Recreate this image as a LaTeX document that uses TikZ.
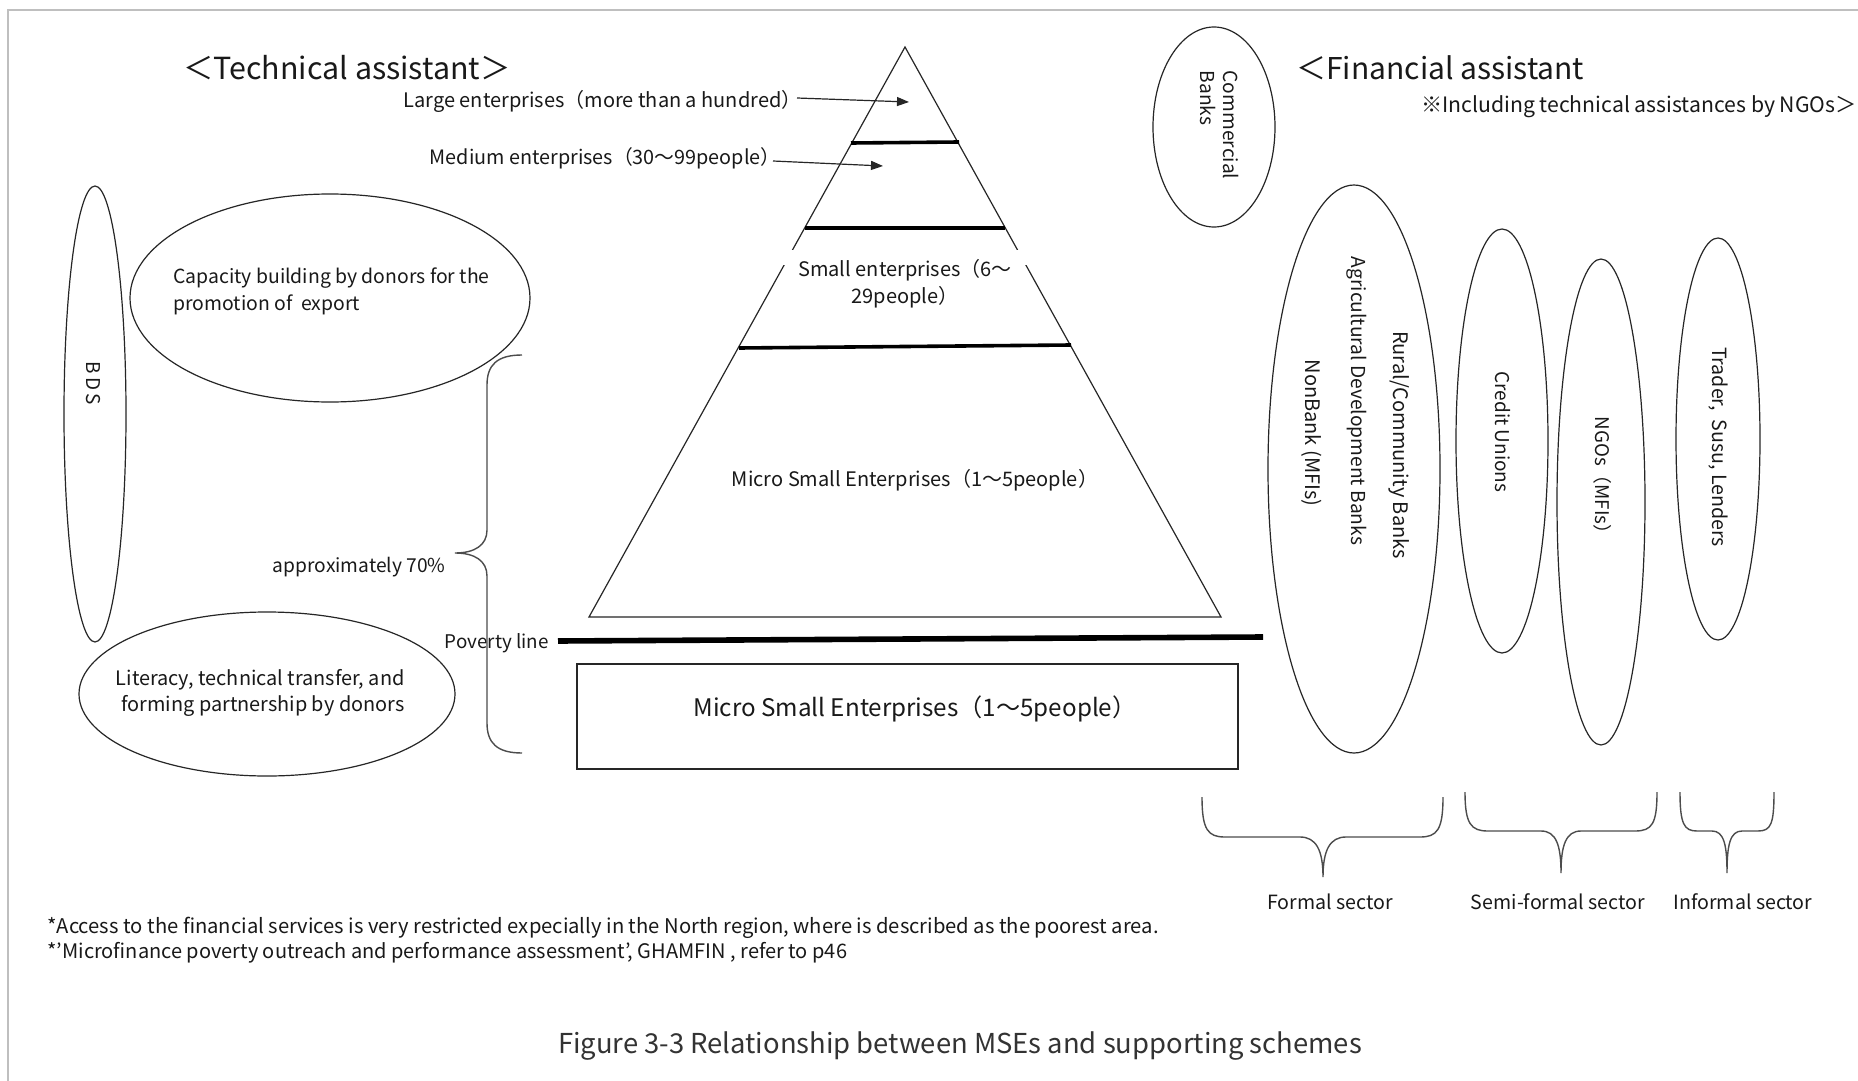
\documentclass[tikz,border=0pt]{standalone}
\usepackage{fontspec}
\setmainfont{Noto Sans CJK JP}
\usetikzlibrary{arrows.meta,shapes.geometric}
\newcommand\fs[2]{\fontsize{#1}{#2}\selectfont}
\begin{document}
\begin{tikzpicture}[x=0.5pt,y=-0.5pt,
  ell/.style={draw=black!85,line width=0.6pt,ellipse,inner sep=0pt},
  txt/.style={inner sep=0pt,text=black!90},
  thin/.style={draw=black!85,line width=0.6pt},
  sep/.style={draw=black,line width=1.8pt},
  brace/.style={draw=black!70,line width=0.7pt},
  arr/.style={draw=black!85,line width=0.6pt,-{Triangle[length=6pt,width=4.5pt]}}]

% page and frame
\fill[white] (0,0) rectangle (1858,1081);
\useasboundingbox (0,0) rectangle (1858,1081);
\draw[black!25,line width=0.8pt] (8,1081) -- (8,10) -- (1858,10);

% headings
\node[txt,font=\fs{15.2pt}{17pt}] (tech) at (347,68) {＜Technical assistant＞};
\node[txt,font=\fs{15pt}{17pt},anchor=west] (fin) at (1296,68) {＜Financial assistant};
\node[txt,font=\fs{10.6pt}{12pt},anchor=east] (ngonote) at (1857,107) {※Including technical assistances by NGOs＞};

% pyramid of enterprises
\draw[thin] (905,47) -- (589,617) -- (1221,617) -- cycle;
\fill[white] (780,250) rectangle (1030,265);
\draw[sep] (851,143) -- (959,142);
\draw[sep] (805,228) -- (1005,228);
\draw[sep] (739,348) -- (1071,345);

\coordinate (tipL) at (909,102);
\coordinate (tipM) at (883,166);
\node[txt,font=\fs{10pt}{12pt},anchor=east] (large) at (802,101) {Large enterprises（more than a hundred）};
\node[txt,font=\fs{9.9pt}{12pt},anchor=east] (medium) at (781,158) {Medium enterprises（30～99people）};
\draw[arr] ([xshift=-2.5pt,yshift=1.5pt]large.east) -- (tipL);
\draw[arr] ([xshift=-4pt,yshift=-1.5pt]medium.east) -- (tipM);

\node[txt,font=\fs{10pt}{13.5pt},align=center] (small) at (905,284) {Small enterprises（6～\\29people）};
\node[txt,font=\fs{10pt}{12pt}] (micro) at (915,480) {Micro Small Enterprises（1～5people）};

% poverty line and the enterprises below it
\node[txt,font=\fs{9.4pt}{11pt},anchor=east] (pov) at (549,643) {Poverty line};
\draw[draw=black,line width=2.8pt] (558,641) -- (1263,637);
\node[draw=black!85,line width=0.6pt,minimum width=330.5pt,minimum height=52.5pt,inner sep=0pt] (box) at (907.5,716.5) {};
\node[txt,font=\fs{12.1pt}{14pt}] (microlow) at (915,709) {Micro Small Enterprises（1～5people）};

% brace grouping the micro enterprises
\draw[brace] (522,355) .. controls (497,355) and (487,365) .. (487,385) -- (487,530)
  .. controls (487,545) and (475,553) .. (455,553)
  .. controls (475,553) and (487,561) .. (487,576) -- (487,723)
  .. controls (487,743) and (497,753) .. (522,753);
\node[txt,font=\fs{9.6pt}{11pt},anchor=east] (approx) at (446,567) {approximately 70\%};

% technical assistance
\node[ell,minimum width=31pt,minimum height=228pt] (bds) at (95,414) {};
\node[txt,font=\fs{9.5pt}{11pt},rotate=-90] (bdst) at (93,383) {B\hspace{1.5pt}D\hspace{1.5pt}S};
\node[ell,minimum width=200pt,minimum height=104pt] (cap) at (330,298) {};
\node[txt,font=\fs{9.7pt}{13.5pt},align=left,anchor=west] (capt) at (173,291) {Capacity building by donors for the\\promotion of \ export};
\node[ell,minimum width=188pt,minimum height=82pt] (lit) at (267,694) {};
\node[txt,font=\fs{9.95pt}{13pt},align=right,anchor=east] (litt) at (405,693) {Literacy, technical transfer, and\\forming partnership by donors};

% financial assistance
\node[ell,minimum width=61pt,minimum height=100pt] (com) at (1214,127) {};
\node[txt,font=\fs{9.6pt}{11.5pt},align=left,rotate=-90] (comt) at (1220,125) {Commercial\\Banks};
\node[ell,minimum width=86pt,minimum height=284pt] (formal) at (1354,469) {};
\node[txt,font=\fs{10pt}{11pt},rotate=-90] (rural) at (1399,445) {Rural/Community Banks};
\node[txt,font=\fs{9.6pt}{11pt},rotate=-90] (agri) at (1357,401) {Agricultural Development Banks};
\node[txt,font=\fs{10pt}{11pt},rotate=-90] (nonbank) at (1312,433) {NonBank (MFIs)};
\node[ell,minimum width=46pt,minimum height=212pt] (credit) at (1502,441) {};
\node[txt,font=\fs{9.5pt}{11pt},rotate=-90] (creditt) at (1503,432) {Credit Unions};
\node[ell,minimum width=44pt,minimum height=243pt] (ngo) at (1601,502) {};
\node[txt,font=\fs{9.4pt}{11pt},rotate=-90] (ngot) at (1603,480) {NGOs（MFIs）};
\node[ell,minimum width=42pt,minimum height=201pt] (trader) at (1718,439) {};
\node[txt,font=\fs{9.8pt}{11pt},rotate=-90] (tradert) at (1718,447) {Trader,\ \ Susu, Lenders};

% sectors
\draw[brace] (1202,797) .. controls (1202,830) and (1208,837) .. (1225,837) -- (1300,837)
  .. controls (1316,837) and (1323,850) .. (1323,877)
  .. controls (1323,850) and (1330,837) .. (1346,837) -- (1420,837)
  .. controls (1437,837) and (1443,830) .. (1443,797);
\draw[brace] (1465,792) .. controls (1465,824) and (1471,831) .. (1488,831) -- (1541,831)
  .. controls (1556,831) and (1561,845) .. (1561,873)
  .. controls (1561,845) and (1566,831) .. (1581,831) -- (1635,831)
  .. controls (1652,831) and (1657,824) .. (1657,792);
\draw[brace] (1680,792) .. controls (1680,824) and (1684,831) .. (1697,831) -- (1712,831)
  .. controls (1724,831) and (1727,845) .. (1727,873)
  .. controls (1727,845) and (1730,831) .. (1742,831) -- (1758,831)
  .. controls (1771,831) and (1774,824) .. (1774,792);
\node[txt,font=\fs{9.8pt}{11pt}] (fs) at (1330,902) {Formal sector};
\node[txt,font=\fs{9.8pt}{11pt}] (sfs) at (1558,902) {Semi-formal sector};
\node[txt,font=\fs{9.8pt}{11pt}] (ifs) at (1743,902) {Informal sector};

% notes and caption
\node[txt,font=\fs{10.1pt}{11pt},anchor=west] (note1) at (47,928) {*Access to the financial services is very restricted expecially in the North region, where is described as the poorest area.};
\node[txt,font=\fs{10pt}{11pt},anchor=west] (note2) at (47,953) {*'Microfinance poverty outreach and performance assessment', GHAMFIN , refer to p46};
\node[txt,font=\fs{13.7pt}{16pt},text=black!80] (caption) at (960,1046) {Figure 3-3 Relationship between MSEs and supporting schemes};
\end{tikzpicture}
\end{document}
